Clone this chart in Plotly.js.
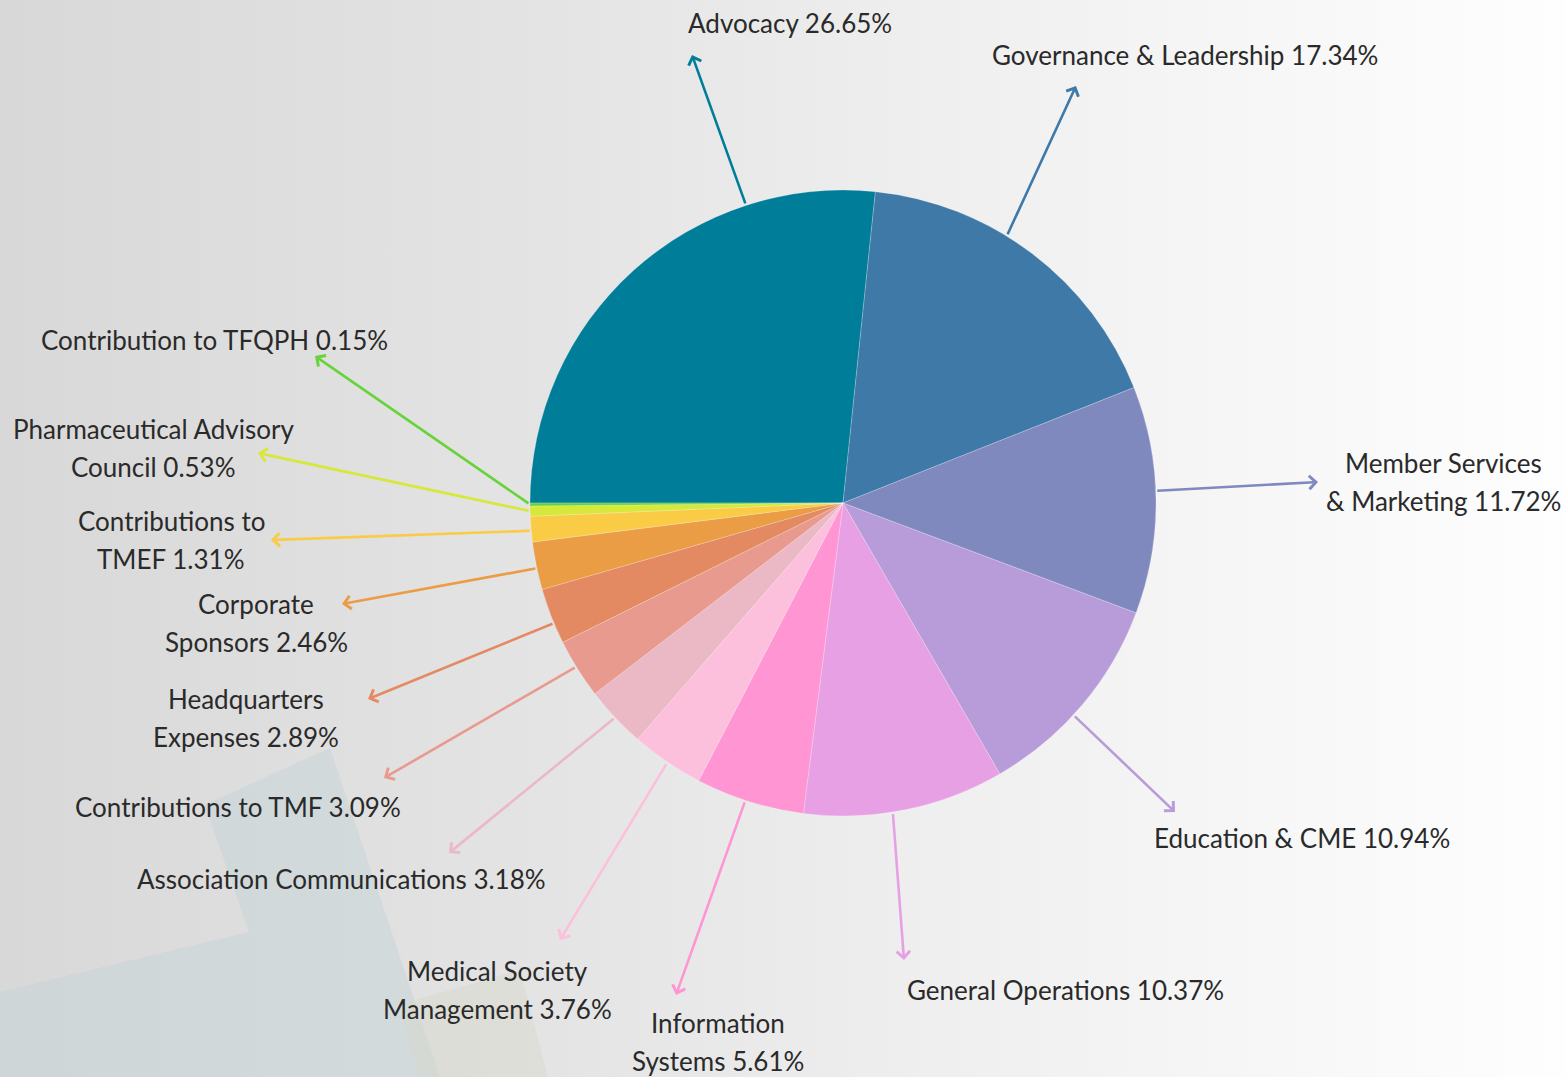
<!DOCTYPE html>
<html>
<head>
<meta charset="utf-8">
<script src="https://cdn.plot.ly/plotly-3.0.1.min.js"></script>
<style>
  html, body { margin: 0; padding: 0; }
  body { background: linear-gradient(to right, #d8d8d8 0%, #e4e4e4 35%, #efefef 60%, #fefefe 100%); }
  #pie { width: 1566px; height: 1077px; }
</style>
</head>
<body>
<div id="pie"></div>
<script>
var categories = ["Advocacy", "Governance & Leadership", "Member Services & Marketing", "Education & CME",
  "General Operations", "Information Systems", "Medical Society Management", "Association Communications",
  "Contributions to TMF", "Headquarters Expenses", "Corporate Sponsors", "Contributions to TMEF",
  "Pharmaceutical Advisory Council", "Contribution to TFQPH"];
var shares = [26.65, 17.34, 11.72, 10.94, 10.37, 5.61, 3.76, 3.18, 3.09, 2.89, 2.46, 1.31, 0.53, 0.15];
var colors = ["#007e99", "#3f79a8", "#7f89be", "#b89cd9", "#e8a0e5", "#ff95d3", "#fdc0dc", "#ebb9c5",
  "#e99a8e", "#e48a62", "#ea9d45", "#facb45", "#d6e83a", "#66d438"];

// words on first line of the label (0 = one line)
var firstLineWords = [0, 0, 2, 0, 0, 1, 2, 0, 0, 1, 1, 2, 2, 0];
// label centre (px) of first line
var labelX = [790, 1185, 1443, 1302, 1065, 718, 497, 341, 238, 246, 256, 171, 153, 214];
var labelY = [23, 55, 463, 838, 990, 1023, 971, 879, 807, 699, 604, 521, 429, 340];
// arrow tips (px) and where on the slice the arrow starts
var tipX = [692, 1076, 1318, 1175, 904, 676, 560, 449, 384, 368, 342, 271, 258, 315];
var tipY = [55, 86, 482, 812, 960, 995, 940, 853, 778, 699, 604, 540, 453, 356];
var arrowAt = [0.75, 0.41, 0.46, 0.56, 0.56, 0.54, 0.49, 0.5, 0.54, 0.37, 0.45, 0.44, 0.5, 0.5];

var W = 1566, H = 1077;
var cx = 843, cy = 503, r = 313;
var startAngle = 270;
var font = "Lato, 'Open Sans', sans-serif";

var trace = {
  type: "pie",
  labels: categories,
  values: shares,
  sort: false,
  direction: "clockwise",
  rotation: startAngle,
  textinfo: "none",
  hoverinfo: "label+percent",
  marker: { colors: colors, line: { color: "rgba(255,255,255,0.35)", width: 0.6 } },
  domain: { x: [(cx - r) / W, (cx + r) / W], y: [1 - (cy + r) / H, 1 - (cy - r) / H] },
  showlegend: false
};

var total = shares.reduce(function (a, b) { return a + b; }, 0);
var annotations = [];
var before = 0;
shares.forEach(function (v, i) {
  var theta = (startAngle + 360 * (before + arrowAt[i] * v) / total) * Math.PI / 180;
  before += v;
  var ex = cx + r * Math.sin(theta);
  var ey = cy - r * Math.cos(theta);
  annotations.push({
    xref: "paper", yref: "paper", x: tipX[i] / W, y: 1 - tipY[i] / H,
    axref: "pixel", ayref: "pixel", ax: ex - tipX[i], ay: ey - tipY[i],
    text: " ", font: { size: 1 }, showarrow: true,
    arrowhead: 4, arrowsize: 1, arrowwidth: 2.6, arrowcolor: colors[i],
    standoff: 0, startstandoff: 0
  });

  var words = (categories[i] + " " + v.toFixed(2) + "%").split(" ");
  var lines = firstLineWords[i] ? [words.slice(0, firstLineWords[i]).join(" "), words.slice(firstLineWords[i]).join(" ")] : [words.join(" ")];
  lines.forEach(function (t, k) {
    annotations.push({
      xref: "paper", yref: "paper", x: labelX[i] / W, y: 1 - (labelY[i] + k * 37.5) / H,
      xanchor: "center", yanchor: "middle", showarrow: false,
      text: t, font: { family: font, size: 26, color: "#2a2a2a" }
    });
  });
});

function px(x, y) { return (x / W).toFixed(4) + "," + (1 - y / H).toFixed(4); }
var shapes = [
  { type: "path", xref: "paper", yref: "paper", layer: "below", line: { width: 0 },
    fillcolor: "rgba(196,212,216,0.5)",
    path: "M" + px(0, 992) + " L" + px(249, 932) + " L" + px(205, 805) + " L" + px(330, 748) +
      " L" + px(440, 1077) + " L" + px(0, 1077) + " Z" },
  { type: "path", xref: "paper", yref: "paper", layer: "below", line: { width: 0 },
    fillcolor: "rgba(214,216,200,0.4)",
    path: "M" + px(398, 1005) + " L" + px(520, 970) + " L" + px(548, 1077) + " L" + px(420, 1077) + " Z" }
];

var layout = {
  width: W, height: H,
  margin: { l: 0, r: 0, t: 0, b: 0 },
  paper_bgcolor: "rgba(0,0,0,0)",
  plot_bgcolor: "rgba(0,0,0,0)",
  annotations: annotations,
  shapes: shapes
};

Plotly.newPlot("pie", [trace], layout, { displayModeBar: false });
</script>
</body>
</html>
